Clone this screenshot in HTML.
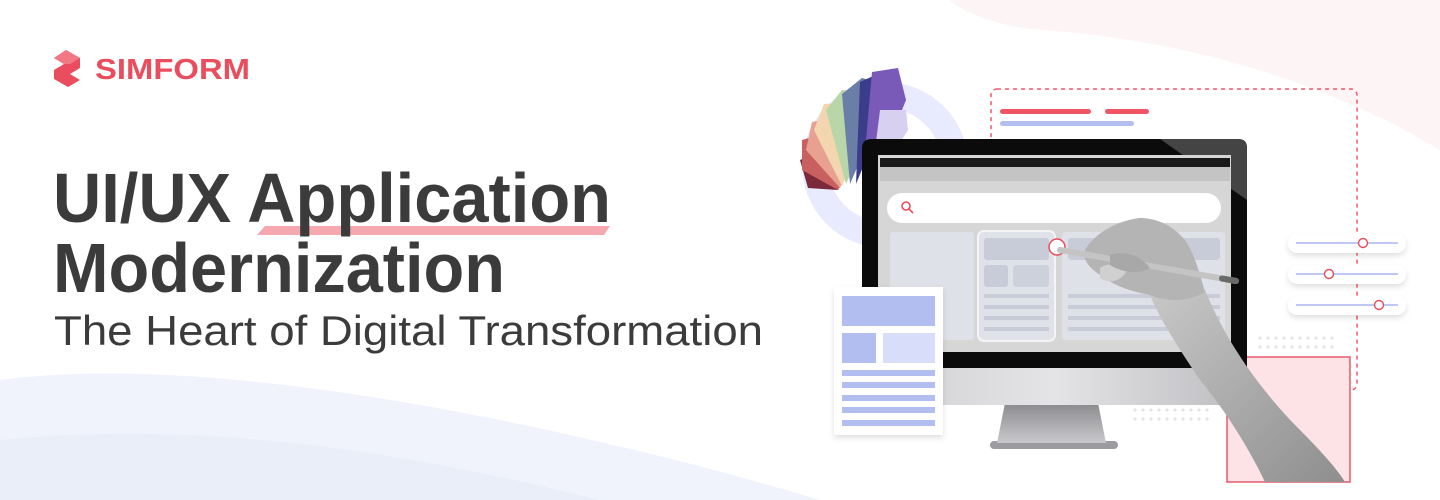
<!DOCTYPE html>
<html><head><meta charset="utf-8"><style>
html,body{margin:0;padding:0;background:#fff;}
svg{display:block}
</style></head><body>
<svg width="1440" height="500" viewBox="0 0 1440 500" xmlns="http://www.w3.org/2000/svg">
<defs>
<linearGradient id="chin" x1="0" x2="1"><stop offset="0" stop-color="#cfcfd3"/><stop offset=".5" stop-color="#e4e4e6"/><stop offset="1" stop-color="#bdbdc1"/></linearGradient>
<linearGradient id="neck" x1="0" y1="0" x2="0" y2="1"><stop offset="0" stop-color="#8a8a8e"/><stop offset="1" stop-color="#c9c9cc"/></linearGradient>
<linearGradient id="arm" x1="0" y1="0" x2="1" y2="1"><stop offset="0" stop-color="#c8c8c8"/><stop offset="1" stop-color="#8e8e8e"/></linearGradient>
<filter id="sh" x="-20%" y="-20%" width="140%" height="160%"><feDropShadow dx="0" dy="3" stdDeviation="3" flood-color="#000" flood-opacity=".12"/></filter>
</defs>
<path d="M950 0 L1440 0 L1440 150 C1340 90 1200 40 1040 30 C990 25 960 10 950 0Z" fill="#fdf4f5"/>
<path d="M0 380 C150 360 350 390 500 420 C620 445 720 470 820 500 L0 500Z" fill="#f0f3fb"/>
<path d="M0 440 C200 420 400 450 600 500 L0 500Z" fill="#eaeef9"/>
<circle cx="885" cy="165" r="70" fill="none" stroke="#e8ebfd" stroke-width="26"/>
<g>
<path d="M838 190 L808 188 L800 160 L870 130Z" fill="#7a2a3a"/>
<path d="M838 190 L802 170 L802 140 L872 120Z" fill="#c96060"/>
<path d="M840 188 L806 150 L812 122 L876 110Z" fill="#e8a090"/>
<path d="M842 186 L814 130 L824 104 L880 100Z" fill="#f3d6b0"/>
<path d="M846 184 L826 110 L842 90 L886 92Z" fill="#b8d6a8"/>
<path d="M850 184 L842 94 L862 78 L892 86Z" fill="#6a7ea8"/>
<path d="M856 184 L860 82 L882 72 L898 82Z" fill="#3a3e8a"/>
<path d="M862 186 L872 72 L898 68 L906 100 L870 190Z" fill="#7a5ab8"/>
<path d="M870 190 L880 110 L906 110 L908 130Z" fill="#d8d0f0"/>
</g>
<rect x="991" y="89" width="366" height="301" rx="6" fill="none" stroke="#ef5a6a" stroke-width="1.5" stroke-dasharray="4 4"/>
<rect x="1000" y="109" width="91" height="5" rx="2.5" fill="#ef5565"/>
<rect x="1105" y="109" width="44" height="5" rx="2.5" fill="#ef5565"/>
<rect x="1000" y="121" width="134" height="5" rx="2.5" fill="#b3bff0"/>
<g fill="#e4e4e8">
<g id="dr"><circle cx="1260" cy="338" r="1.6"/><circle cx="1268" cy="338" r="1.6"/><circle cx="1276" cy="338" r="1.6"/><circle cx="1284" cy="338" r="1.6"/><circle cx="1292" cy="338" r="1.6"/><circle cx="1300" cy="338" r="1.6"/><circle cx="1308" cy="338" r="1.6"/><circle cx="1316" cy="338" r="1.6"/><circle cx="1324" cy="338" r="1.6"/><circle cx="1332" cy="338" r="1.6"/></g>
<use href="#dr" y="9"/><use href="#dr" x="-125" y="72"/><use href="#dr" x="-125" y="81"/>
</g>
<rect x="1227" y="357" width="123" height="125" fill="#fde3e6" stroke="#e8586a" stroke-width="1.5"/>
<rect x="990" y="441" width="128" height="8" rx="4" fill="#9c9ca0"/>
<path d="M1005 403 L1098 403 L1106 443 L997 443Z" fill="url(#neck)"/>
<rect x="862" y="355" width="385" height="50" fill="url(#chin)"/>
<path d="M862 148 Q862 139 872 139 L1238 139 Q1247 139 1247 148 L1247 368 L862 368Z" fill="#0b0b0b"/>
<path d="M1160 139 L1238 139 Q1247 139 1247 148 L1247 200Z" fill="#444"/>
<rect x="878" y="155" width="353" height="197" fill="#d6d6d6"/>
<rect x="880" y="158" width="350" height="9" fill="#1a1a1a"/>
<rect x="880" y="167" width="350" height="14" fill="#c4c4c4"/>
<rect x="887" y="193" width="334" height="30" rx="15" fill="#fff"/>
<circle cx="906" cy="206" r="4" fill="none" stroke="#e84c5c" stroke-width="1.6"/>
<line x1="909" y1="209" x2="913" y2="213" stroke="#e84c5c" stroke-width="1.6"/>
<rect x="890" y="232" width="84" height="108" rx="3" fill="#dfe1e8"/>
<rect x="978" y="231" width="77" height="110" rx="6" fill="#e0e2ea" stroke="#f4f4f6" stroke-width="2"/>
<rect x="984" y="238" width="65" height="22" rx="3" fill="#c8ccd9"/>
<rect x="984" y="265" width="24" height="22" rx="3" fill="#c8ccd9"/>
<rect x="1013" y="265" width="36" height="22" rx="3" fill="#cdd1dc"/>
<g fill="#c8ccd9"><rect x="984" y="294" width="65" height="4"/><rect x="984" y="305" width="65" height="4"/><rect x="984" y="316" width="65" height="4"/><rect x="984" y="327" width="65" height="4"/></g>
<rect x="1062" y="232" width="163" height="108" rx="3" fill="#dfe1e8"/>
<rect x="1068" y="238" width="152" height="22" rx="3" fill="#c8ccd9"/>
<g fill="#c8ccd9"><rect x="1068" y="294" width="152" height="4"/><rect x="1068" y="305" width="152" height="4"/><rect x="1068" y="316" width="152" height="4"/><rect x="1068" y="327" width="152" height="4"/></g>
<circle cx="1057" cy="247" r="8" fill="#fff" stroke="#e84c5c" stroke-width="1.5"/>
<!-- hand -->
<path d="M1150 295 C1170 300 1195 300 1205 290 C1225 340 1260 390 1300 430 C1320 450 1338 470 1345 482 L1265 482 C1250 450 1225 410 1200 380 C1180 350 1160 320 1150 295Z" fill="url(#arm)"/>
<path d="M1085 250 C1095 232 1120 220 1140 218 C1160 218 1175 228 1185 240 C1195 255 1200 275 1205 292 C1190 302 1165 302 1150 295 C1135 292 1118 288 1105 278 C1092 270 1082 262 1085 250Z" fill="#b4b4b4"/>
<path d="M1100 268 C1108 262 1120 264 1126 272 C1120 282 1108 284 1100 278Z" fill="#d0d0d0"/>
<line x1="1060" y1="250" x2="1236" y2="281" stroke="#c4c4c4" stroke-width="6" stroke-linecap="round"/>
<line x1="1222" y1="278.5" x2="1236" y2="281" stroke="#6a6a6a" stroke-width="6" stroke-linecap="round"/>
<path d="M1110 255 C1125 250 1140 255 1150 268 C1140 275 1120 272 1110 265Z" fill="#a8a8a8"/>
<g filter="url(#sh)"><rect x="834" y="287" width="109" height="148" fill="#fff"/></g>
<rect x="842" y="296" width="93" height="30" fill="#b2bdf0"/>
<rect x="842" y="333" width="34" height="30" fill="#b2bdf0"/>
<rect x="883" y="333" width="52" height="30" fill="#d8defa"/>
<g fill="#b2bdf0"><rect x="842" y="370" width="93" height="6"/><rect x="842" y="382" width="93" height="6"/><rect x="842" y="395" width="93" height="6"/><rect x="842" y="407" width="93" height="6"/><rect x="842" y="420" width="93" height="6"/></g>
<g filter="url(#sh)"><rect x="1288" y="234" width="118" height="19" rx="9.5" fill="#fff"/><rect x="1288" y="265" width="118" height="19" rx="9.5" fill="#fff"/><rect x="1288" y="296" width="118" height="19" rx="9.5" fill="#fff"/></g>
<g stroke="#aab6f0" stroke-width="1.5"><line x1="1296" y1="243" x2="1398" y2="243"/><line x1="1296" y1="274" x2="1398" y2="274"/><line x1="1296" y1="305" x2="1398" y2="305"/></g>
<g fill="#fff" stroke="#e84c5c" stroke-width="1.4"><circle cx="1363" cy="243" r="4.5"/><circle cx="1329" cy="274" r="4.5"/><circle cx="1379" cy="305" r="4.5"/></g>
<path d="M66 50 L80 58 L80 68 L70 74 L80 80 L68 87 L54 79 L54 70 L64 64 L54 58Z" fill="#ea4d5e"/>
<path d="M66 50 L80 58 L70 64 L64 64 L54 58Z" fill="#f27886"/>
<text x="95" y="79" font-family="Liberation Sans, sans-serif" font-size="29" font-weight="bold" fill="#ea4d5e" textLength="155" lengthAdjust="spacingAndGlyphs">SIMFORM</text>
<path d="M265 226 L610 226 L604 235 L257 235Z" fill="#f5a8b0"/>
<g font-family="Liberation Sans, sans-serif" fill="#3b3b3b">
<text x="53" y="222" font-size="70" font-weight="bold" textLength="558" lengthAdjust="spacingAndGlyphs">UI/UX Application</text>
<text x="53" y="292" font-size="70" font-weight="bold" textLength="452" lengthAdjust="spacingAndGlyphs">Modernization</text>
<text x="54" y="345" font-size="42" textLength="709" lengthAdjust="spacingAndGlyphs">The Heart of Digital Transformation</text>
</g>
</svg>
</body></html>
